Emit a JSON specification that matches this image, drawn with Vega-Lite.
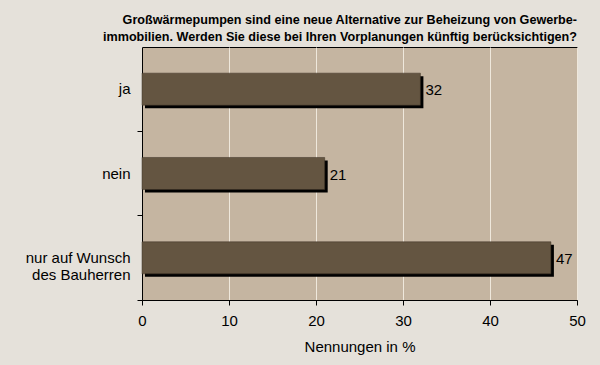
{
  "$schema": "https://vega.github.io/schema/vega-lite/v6.json",
  "width": 435,
  "height": 253,
  "autosize": {"type": "none"},
  "padding": {"left": 142, "top": 47, "right": 23, "bottom": 65},
  "background": "#e5e1da",
  "title": {
    "text": ["Großwärmepumpen sind eine neue Alternative zur Beheizung von Gewerbe-", "immobilien. Werden Sie diese bei Ihren Vorplanungen künftig berücksichtigen?"],
    "anchor": "end",
    "frame": "group",
    "font": "Liberation Sans",
    "fontSize": 12.6,
    "fontWeight": "bold",
    "color": "#000000",
    "lineHeight": 17,
    "offset": 3
  },
  "config": {
    "view": {"fill": "#c5b5a1", "stroke": "#000000", "strokeWidth": 1},
    "font": "Liberation Sans",
    "axis": {
      "labelFont": "Liberation Sans",
      "titleFont": "Liberation Sans",
      "labelFontSize": 15,
      "titleFontSize": 15,
      "labelColor": "#000000",
      "titleColor": "#000000",
      "titleFontWeight": "normal",
      "domainColor": "#000000",
      "tickColor": "#000000",
      "tickSize": 5
    }
  },
  "data": {
    "values": [
      {"antwort": "ja", "wert": 32},
      {"antwort": "nein", "wert": 21},
      {"antwort": "nur auf Wunsch|des Bauherren", "wert": 47}
    ]
  },
  "encoding": {
    "y": {
      "field": "antwort",
      "type": "nominal",
      "sort": null,
      "scale": {"paddingInner": 0, "paddingOuter": 0},
      "axis": {
        "title": null,
        "bandPosition": 1,
        "labelPadding": 7,
        "labelExpr": "split(datum.label, '|')",
        "labelLineHeight": 17,
        "grid": false
      }
    },
    "x": {
      "field": "wert",
      "type": "quantitative",
      "scale": {"domain": [0, 50], "nice": false},
      "axis": {
        "title": "Nennungen in %",
        "values": [0, 10, 20, 30, 40, 50],
        "grid": true,
        "gridColor": "#efe8dc",
        "gridWidth": 1,
        "labelFlush": false,
        "labelPadding": 8,
        "titlePadding": 11
      }
    }
  },
  "layer": [
    {
      "mark": {"type": "bar", "color": "#000000", "height": {"band": 0.38}, "xOffset": 3, "yOffset": 3}
    },
    {
      "mark": {"type": "bar", "color": "#645541", "height": {"band": 0.38}, "stroke": "#3a3024", "strokeWidth": 0.5}
    },
    {
      "mark": {"type": "text", "align": "left", "dx": 5, "dy": 1, "fontSize": 15, "font": "Liberation Sans", "color": "#000000"},
      "encoding": {"text": {"field": "wert", "type": "quantitative"}}
    }
  ]
}
